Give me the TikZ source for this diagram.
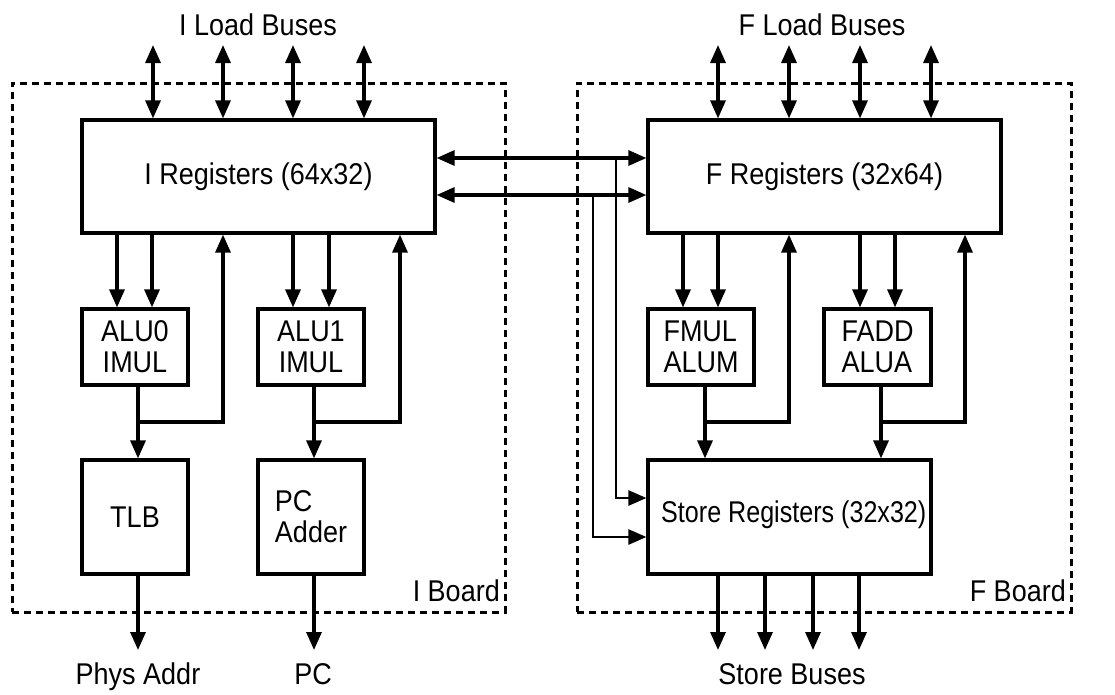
\documentclass[tikz,border=0pt]{standalone}
\usepackage{fontspec}
\usepackage{graphicx}
\setmainfont{Liberation Sans}[FakeStretch=0.9]
\usetikzlibrary{arrows.meta}
\begin{document}
\begin{tikzpicture}[x=1pt,y=-1pt,
  box/.style={draw,line width=3.2pt,rectangle,inner sep=0pt,font=\fontsize{30}{31}\selectfont,align=center},
  lbl/.style={font=\fontsize{30}{31}\selectfont,inner sep=0pt},
  wire/.style={line width=3.2pt},
  thinwire/.style={line width=2.6pt},
  board/.style={draw,rectangle,inner sep=0pt,line width=3pt,dash pattern=on 7pt off 5pt},
  >={Triangle[length=18pt,width=15pt]}]
\useasboundingbox (0,0) rectangle (1115,694);
% boards
\node[board,minimum width=493pt,minimum height=529pt] (iboard) at (258.5,347.5) {};
\node[board,minimum width=494pt,minimum height=529pt] (fboard) at (824,347.5) {};
% boxes
\node[box,minimum width=353pt,minimum height=113pt] (ireg) at (258.5,176.5) {I Registers (64x32)};
\node[box,minimum width=106pt,minimum height=76pt] (alu0) at (135,347) {ALU0\\IMUL};
\node[box,minimum width=106pt,minimum height=76pt] (alu1) at (311,347) {ALU1\\IMUL};
\node[box,minimum width=106pt,minimum height=114pt] (tlb) at (135,517) {TLB};
\node[box,align=left,minimum width=106pt,minimum height=114pt] (pca) at (311,517) {PC\\Adder};
\node[box,minimum width=353pt,minimum height=113pt] (freg) at (824.5,176.5) {F Registers (32x64)};
\node[box,align=left,minimum width=106pt,minimum height=76pt] (fmul) at (701,347) {FMUL\\ALUM};
\node[box,align=left,minimum width=107pt,minimum height=76pt] (fadd) at (877.5,347) {FADD\\ALUA};
\node[box,minimum width=283pt,minimum height=114pt] (store) at (789.5,517) {};
\node[lbl,anchor=west] (storetxt) at (661,515) {\scalebox{0.93}[1]{Store Registers (32x32)}};
% labels
\node[lbl,anchor=base east] (iboardlbl) at (500,601) {I Board};
\node[lbl,anchor=base east] (fboardlbl) at (1066,601) {F Board};
\node[lbl,anchor=base] (iload) at (258,35) {I Load Buses};
\node[lbl,anchor=base] (fload) at (822,35) {F Load Buses};
\node[lbl,anchor=base] (phys) at (138,684) {Phys Addr};
\node[lbl,anchor=base] (pc) at (313,684) {PC};
\node[lbl,anchor=base] (sbus) at (792,684) {Store Buses};
% load buses
\foreach \x [count=\i] in {153,223,293,364}{
  \coordinate (il\i) at (\x,45);
  \draw[wire,<->] (il\i) -- (il\i |- ireg.north);
}
\foreach \x [count=\i] in {718,789,860,931}{
  \coordinate (fl\i) at (\x,45);
  \draw[wire,<->] (fl\i) -- (fl\i |- freg.north);
}
% register to units
\foreach \x/\a/\b in {117/ireg/alu0,152/ireg/alu0,293/ireg/alu1,329/ireg/alu1,683/freg/fmul,718/freg/fmul,860/freg/fadd,895/freg/fadd}{
  \coordinate (tmp) at (\x,0);
  \draw[wire,->] (\a.south -| tmp) -- (\b.north -| tmp);
}
% unit outputs and feedback
\foreach \cx/\ux/\u/\d/\r in {138/223/alu0/tlb/ireg,314/400/alu1/pca/ireg,705/789/fmul/store/freg,881/965/fadd/store/freg}{
  \coordinate (cj) at (\cx,422);
  \coordinate (uc) at (\ux,0);
  \draw[wire,->] (\u.south -| cj) -- (\d.north -| cj);
  \draw[wire,->] (cj) -| (\r.south -| uc);
}
% outputs
\coordinate (o0) at (138,650);
\draw[wire,->] (tlb.south -| o0) -- (o0);
\coordinate (o1) at (314,650);
\draw[wire,->] (pca.south -| o1) -- (o1);
\foreach \x [count=\i] in {718,765,813,859}{
  \coordinate (so\i) at (\x,650);
  \draw[wire,->] (store.south -| so\i) -- (so\i);
}
% inter-board buses
\coordinate (m1) at (0,158);
\coordinate (m2) at (0,195);
\draw[wire,<->] (ireg.east |- m1) -- (freg.west |- m1);
\draw[wire,<->] (ireg.east |- m2) -- (freg.west |- m2);
\coordinate (v1) at (616,158);
\coordinate (v2) at (593,195);
\coordinate (s1) at (0,498);
\coordinate (s2) at (0,537);
\draw[thinwire,->] (v1) |- (store.west |- s1);
\draw[thinwire,->] (v2) |- (store.west |- s2);
\end{tikzpicture}
\end{document}
